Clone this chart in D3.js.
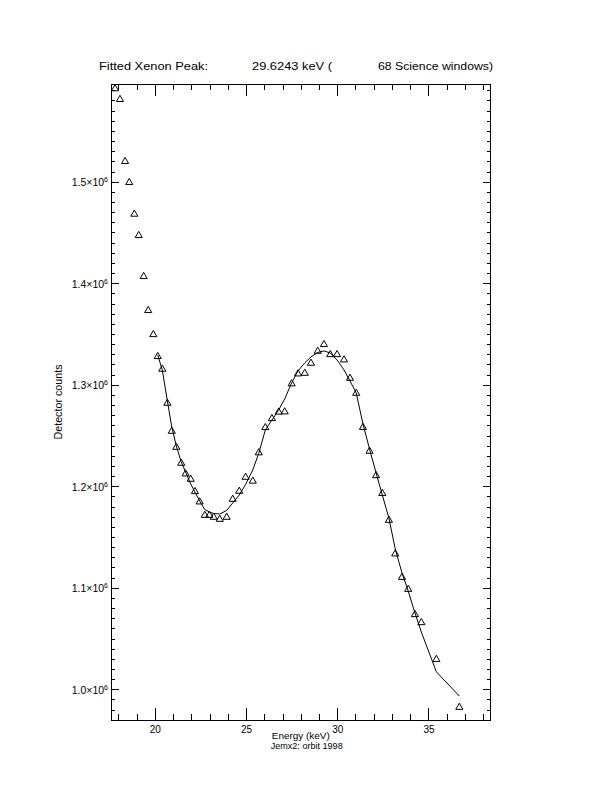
<!DOCTYPE html>
<html>
<head>
<meta charset="utf-8">
<script src="https://cdn.jsdelivr.net/npm/d3@7"></script>
<style>
  html, body { margin: 0; padding: 0; background: #fff; }
  svg { display: block; }
  text { font-family: "Liberation Sans", Arial, sans-serif; fill: #000; }
</style>
</head>
<body>
<svg id="chart" width="612" height="792"></svg>
<script>
// ---- data ----
const energy = [17.82, 18.09, 18.37, 18.60, 18.88, 19.12, 19.39, 19.64, 19.92, 20.16,
  20.41, 20.69, 20.93, 21.18, 21.45, 21.69, 21.97, 22.20, 22.46, 22.74,
  22.99, 23.23, 23.56, 23.94, 24.27, 24.63, 24.98, 25.37, 25.70, 26.06,
  26.42, 26.79, 27.12, 27.50, 27.85, 28.22, 28.56, 28.93, 29.27, 29.62,
  29.99, 30.37, 30.70, 31.04, 31.41, 31.77, 32.13, 32.47, 32.83, 33.18,
  33.55, 33.89, 34.26, 34.61, 35.43, 36.69];
const counts = [1.5921e6, 1.5816e6, 1.5205e6, 1.4998e6, 1.4686e6, 1.4476e6, 1.4072e6, 1.3737e6, 1.3500e6, 1.3284e6,
  1.3159e6, 1.2824e6, 1.2548e6, 1.2390e6, 1.2233e6, 1.2128e6, 1.2075e6, 1.1954e6, 1.1852e6, 1.1720e6,
  1.1720e6, 1.1701e6, 1.1681e6, 1.1701e6, 1.1878e6, 1.1957e6, 1.2095e6, 1.2057e6, 1.2336e6, 1.2584e6,
  1.2673e6, 1.2737e6, 1.2739e6, 1.3015e6, 1.3113e6, 1.3119e6, 1.3218e6, 1.3336e6, 1.3402e6, 1.3303e6,
  1.3303e6, 1.3251e6, 1.3070e6, 1.2922e6, 1.2586e6, 1.2351e6, 1.2111e6, 1.1936e6, 1.1671e6, 1.1340e6,
  1.1109e6, 1.0991e6, 1.0742e6, 1.0663e6, 1.0301e6, 0.9829e6];
const fitStart = 9; // fit evaluated from the 10th channel onward
const fitCounts = [1.3294e6, 1.3146e6, 1.2840e6, 1.2584e6, 1.2397e6, 1.2239e6, 1.2141e6, 1.2022e6, 1.1944e6, 1.1855e6,
  1.1771e6, 1.1747e6, 1.1732e6, 1.1727e6, 1.1762e6, 1.1835e6, 1.1914e6, 1.2018e6, 1.2161e6, 1.2325e6,
  1.2555e6, 1.2653e6, 1.2752e6, 1.2860e6, 1.3018e6, 1.3136e6, 1.3215e6, 1.3274e6, 1.3318e6, 1.3333e6,
  1.3313e6, 1.3244e6, 1.3146e6, 1.3037e6, 1.2919e6, 1.2614e6, 1.2367e6, 1.2131e6, 1.1914e6, 1.1688e6,
  1.1382e6, 1.1146e6, 1.0969e6, 1.0752e6, 1.0564e6, 1.0173e6, 0.9934e6];
const xTicks = [20, 25, 30, 35];
const xTickLabels = ["20", "25", "30", "35"];
const yTicks = [1.0e6, 1.1e6, 1.2e6, 1.3e6, 1.4e6, 1.5e6];
const yTickMantissa = ["1.0", "1.1", "1.2", "1.3", "1.4", "1.5"];
const yTickExponent = "6";
const xDomain = [17.6, 38.4];
const yDomain = [0.9698e6, 1.5962e6];
const titleParts = ["Fitted Xenon Peak:", "29.6243 keV (", "68 Science windows)"];
const xTitle = "Energy (keV)";
const subTitle = "Jemx2: orbit 1998";
const yTitle = "Detector counts";

// ---- layout ----
const L = 111, R = 490.5, T = 84, B = 720;
const svg = d3.select("#chart");
svg.append("rect").attr("width", 612).attr("height", 792).attr("fill", "#fff");

const x = d3.scaleLinear().domain(xDomain).range([L, R]);
const y = d3.scaleLinear().domain(yDomain).range([B, T]);

const xMinor = d3.range(18, 39, 1).filter(v => !xTicks.includes(v));
const yMinor = d3.range(97, 160, 1).map(v => v * 1e4).filter(v => !yTicks.some(t => Math.abs(t - v) < 1));

function styleAxis(g) {
  g.select(".domain").remove();
  g.selectAll("line").attr("stroke", "#000").attr("shape-rendering", "crispEdges");
  g.selectAll("text").attr("font-family", "Liberation Sans, Arial, sans-serif").attr("fill", "#000");
}

// bottom axis (major + minor)
svg.append("g").attr("transform", `translate(0,${B})`)
  .call(d3.axisBottom(x).tickValues(xTicks).tickSize(-12).tickPadding(6)
    .tickFormat((d, i) => xTickLabels[i]))
  .call(styleAxis)
  .call(g => g.selectAll("text").attr("font-size", 10));
svg.append("g").attr("transform", `translate(0,${B})`)
  .call(d3.axisBottom(x).tickValues(xMinor).tickSize(-6).tickFormat(""))
  .call(styleAxis);
// top axis
svg.append("g").attr("transform", `translate(0,${T})`)
  .call(d3.axisTop(x).tickValues(xTicks).tickSize(-12).tickFormat(""))
  .call(styleAxis);
svg.append("g").attr("transform", `translate(0,${T})`)
  .call(d3.axisTop(x).tickValues(xMinor).tickSize(-6).tickFormat(""))
  .call(styleAxis);
// left axis
const yl = svg.append("g").attr("transform", `translate(${L},0)`)
  .call(d3.axisLeft(y).tickValues(yTicks).tickSize(-8).tickPadding(3).tickFormat(""))
  .call(styleAxis);
yl.selectAll(".tick text").each(function(d, i) {
  const t = d3.select(this).attr("font-size", 10.5).attr("dy", "0.38em");
  t.append("tspan").text(yTickMantissa[i] + "\u00d710");
  t.append("tspan").attr("font-size", 7).attr("dy", "-0.55em").text(yTickExponent);
});
svg.append("g").attr("transform", `translate(${L},0)`)
  .call(d3.axisLeft(y).tickValues(yMinor).tickSize(-4).tickFormat(""))
  .call(styleAxis);
// right axis
svg.append("g").attr("transform", `translate(${R},0)`)
  .call(d3.axisRight(y).tickValues(yTicks).tickSize(-8).tickFormat(""))
  .call(styleAxis);
svg.append("g").attr("transform", `translate(${R},0)`)
  .call(d3.axisRight(y).tickValues(yMinor).tickSize(-4).tickFormat(""))
  .call(styleAxis);

// frame
svg.append("rect").attr("x", L).attr("y", T).attr("width", R - L).attr("height", B - T)
  .attr("fill", "none").attr("stroke", "#000").attr("shape-rendering", "crispEdges");

// fit line
const fitData = fitCounts.map((c, i) => [energy[fitStart + i], c]);
svg.append("path").datum(fitData)
  .attr("d", d3.line().x(d => x(d[0])).y(d => y(d[1])))
  .attr("fill", "none").attr("stroke", "#000").attr("stroke-width", 1);

// data triangles
const tri = d3.symbol().type(d3.symbolTriangle).size(22);
svg.append("g").selectAll("path").data(energy.map((e, i) => [e, counts[i]]))
  .join("path")
  .attr("transform", d => `translate(${x(d[0])},${y(d[1]) + 0.6})`)
  .attr("d", tri)
  .attr("fill", "none").attr("stroke", "#000").attr("stroke-width", 1);

// titles
const tX = [99, 252, 378], tW = [109, 80, 115];
titleParts.forEach((s, i) => {
  svg.append("text").attr("x", tX[i]).attr("y", 70).attr("font-size", 11)
    .attr("textLength", tW[i]).attr("lengthAdjust", "spacingAndGlyphs").text(s);
});
svg.append("text").attr("x", (L + R) / 2).attr("y", 739).attr("text-anchor", "middle")
  .attr("font-size", 9).attr("textLength", 58).attr("lengthAdjust", "spacingAndGlyphs").text(xTitle);
svg.append("text").attr("x", 306.7).attr("y", 748.5).attr("text-anchor", "middle")
  .attr("font-size", 9).attr("textLength", 72).attr("lengthAdjust", "spacingAndGlyphs").text(subTitle);
svg.append("text").attr("transform", `translate(62,${(T + B) / 2}) rotate(-90)`)
  .attr("text-anchor", "middle").attr("font-size", 10)
  .attr("textLength", 75).attr("lengthAdjust", "spacingAndGlyphs").text(yTitle);
</script>
</body>
</html>
